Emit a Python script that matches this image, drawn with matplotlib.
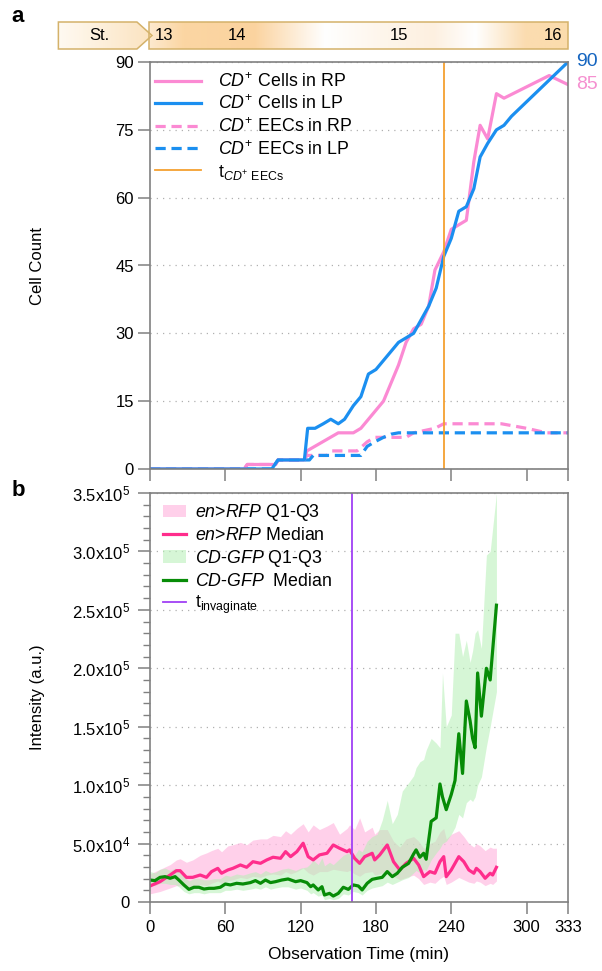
import numpy as np
import matplotlib
matplotlib.use('Agg')
import matplotlib.pyplot as plt
from matplotlib.colors import LinearSegmentedColormap
from matplotlib.patches import Polygon, Rectangle
from matplotlib.lines import Line2D
from matplotlib.patches import Patch

plt.rcParams['font.family'] = ['Liberation Sans', 'DejaVu Sans']
plt.rcParams['mathtext.fontset'] = 'custom'
plt.rcParams['mathtext.rm'] = 'Liberation Sans'
plt.rcParams['mathtext.it'] = 'Liberation Sans:italic'
plt.rcParams['mathtext.bf'] = 'Liberation Sans:bold'

# ---- panel a : cell counts ----
lp_t = [0, 97, 102, 123, 125.6, 131.5, 138, 144, 150, 155, 162, 168, 174, 180, 186, 192, 198,
        204, 210, 216, 222, 228, 234, 240, 246, 252, 258, 263, 269, 276, 282, 288, 318, 333]
lp_cells = [0, 0, 2, 2, 9, 9, 10, 11, 10, 11, 14, 16, 21, 22, 24, 26, 28,
            29, 30, 33, 36, 40, 47, 51, 57, 58, 62, 69, 72, 75, 76, 78, 86, 90]

rp_t = [0, 75, 77.5, 100, 102, 123, 125, 150, 162, 168, 186, 198, 204, 210, 216, 222, 227,
        234, 240, 252, 258, 263, 269, 276, 282, 318, 333]
rp_cells = [0, 0, 1, 1, 2, 2, 4, 8, 8, 9, 15, 23, 28, 31, 32, 36, 44,
            48, 53, 55, 68, 76, 73, 83, 82, 87, 85]

rp_eec_t = [0, 75, 77.5, 100, 102, 123, 125, 141, 145, 165, 173, 179, 204, 210, 227, 234, 280, 300, 316, 333]
rp_eec = [0, 0, 1, 1, 2, 2, 3, 3, 4, 4, 6, 7, 7, 8, 9, 10, 10, 9, 8, 8]

lp_eec_t = [0, 97, 102, 127, 130, 168, 173, 179, 186, 192, 198, 333]
lp_eec = [0, 0, 2, 2, 3, 3, 5, 6, 7, 7.7, 8, 8]

t_eec = 234

stage_names = ['St.', '13', '14', '15', '16']
stage_pos = [-40, 11, 69, 198, 321]

# ---- panel b : intensities (x1e4) ----
rfp_t = [0, 8, 16, 21, 24, 29, 34, 40, 45, 49, 54, 57, 62, 66, 72, 77, 82, 88, 93, 98,
         104, 108, 112, 117, 122, 126, 130, 135, 141, 146, 151, 157, 159, 163, 167, 171,
         177, 179, 183, 189, 194, 199, 204, 210, 214, 218, 223, 227, 231, 234, 236, 240,
         246, 250, 254, 258, 260, 263, 267, 271, 273, 276]
rfp_med = [1.37, 1.74, 2.31, 2.68, 2.68, 2.11, 2.11, 2.31, 2.11, 2.6,
           2.88, 2.46, 2.74, 2.88, 3.17, 2.97, 3.45, 3.31, 3.6, 3.83,
           3.74, 4.31, 3.88, 4.31, 5.03, 3.88, 3.6, 4.03, 4.17, 4.88,
           4.6, 4.31, 4.46, 3.74, 3.31, 3.88, 4.17, 3.6, 4.03, 4.88,
           3.45, 2.74, 3.31, 3.74, 3.17, 2.17, 2.6, 2.46, 3.45, 3.88,
           2.17, 2.74, 3.88, 3.45, 2.74, 2.46, 2.88, 2.6, 2.03, 2.46,
           2.31, 2.97]
rfp_q3 = [2.4, 2.8, 3.2, 3.6, 3.7, 3.4, 3.6, 4.0, 4.2, 4.4,
          4.6, 4.3, 4.8, 4.9, 5.1, 4.9, 5.3, 5.4, 5.4, 5.7,
          5.6, 6.1, 5.8, 6.3, 6.7, 6.0, 6.6, 6.2, 6.5, 6.8,
          5.8, 6.3, 6.6, 6.2, 7.2, 6.0, 6.4, 5.8, 6.2, 6.2,
          5.2, 4.7, 5.4, 5.6, 5.2, 4.6, 5.0, 5.2, 6.0, 6.3,
          5.4, 5.8, 6.1, 5.6, 5.0, 4.7, 5.0, 4.8, 4.4, 4.7,
          4.6, 4.6]
rfp_q1 = [0.7, 0.9, 1.2, 1.4, 1.4, 1.2, 1.3, 1.5, 1.4, 1.6,
          1.8, 1.6, 1.8, 1.9, 2.1, 2.0, 2.2, 2.1, 2.3, 2.4,
          2.3, 2.6, 2.4, 2.6, 2.9, 2.5, 2.3, 2.6, 2.6, 2.8,
          2.7, 2.6, 2.7, 2.4, 2.2, 2.5, 2.6, 2.3, 2.4, 2.7,
          2.2, 1.9, 2.1, 2.3, 2.0, 1.5, 1.7, 1.6, 2.0, 2.2,
          1.5, 1.7, 2.1, 1.9, 1.7, 1.6, 1.8, 1.7, 1.4, 1.6,
          1.5, 1.8]

gfp_t = [0, 4, 8, 12, 16, 20, 23, 27, 31, 35, 39, 43, 47, 51, 56, 60, 64, 69, 74, 80,
         84, 88, 92, 96, 100, 105, 110, 116, 120, 125, 128, 130, 134, 137, 139, 143, 146,
         150, 154, 158, 162, 166, 169, 173, 177, 181, 185, 189, 193, 197, 201, 206, 210,
         212, 215, 218, 220, 224, 228, 231, 233, 236, 240, 243, 246, 249, 252, 255, 257,
         259, 261, 264, 268, 271, 276]
gfp_med = [1.88, 1.83, 2.11, 2.17, 2.03, 2.17, 1.88, 1.46, 1.08, 1.26,
           1.26, 1.11, 1.17, 1.17, 1.26, 1.54, 1.46, 1.6, 1.54, 1.66,
           1.83, 1.6, 1.88, 1.66, 1.74, 1.88, 1.97, 1.74, 1.83, 1.66,
           1.31, 1.46, 1.03, 1.31, 0.6, 0.74, 0.51, 0.74, 1.26, 1.08,
           1.46, 1.37, 1.03, 1.6, 1.94, 2.03, 2.11, 2.6, 2.17, 2.46,
           2.97, 3.31, 4.11, 4.46, 3.83, 4.17, 3.66, 6.9, 7.2, 10.1,
           9.0, 7.9, 9.2, 10.4, 14.4, 11.0, 17.2, 15.5, 14.0, 13.2,
           19.6, 15.9, 20.0, 19.0, 25.4]
gfp_q3 = [2.6, 2.5, 2.8, 2.9, 2.7, 2.9, 2.6, 2.2, 1.8, 2.0,
          2.0, 1.9, 1.9, 2.0, 2.0, 2.3, 2.2, 2.4, 2.3, 2.5,
          2.6, 2.4, 2.7, 2.5, 2.6, 2.8, 2.9, 2.7, 2.9, 3.0,
          3.3, 3.6, 3.2, 3.8, 3.1, 3.4, 3.2, 3.6, 4.0, 4.2,
          3.8, 4.5, 4.3, 5.2, 5.6, 5.8, 7.0, 8.7, 6.7, 7.5,
          9.5, 10.2, 10.8, 11.5, 12.0, 12.2, 13.0, 14.0, 13.6, 13.2,
          19.6, 15.0, 16.0, 23.0, 23.0, 21.0, 22.4, 20.5, 21.5, 23.0,
          23.3, 21.7, 29.7, 30.0, 35.0]
gfp_q1 = [1.5, 1.4, 1.6, 1.6, 1.5, 1.5, 1.3, 0.9, 0.7, 0.8,
          0.8, 0.7, 0.8, 0.8, 0.8, 1.0, 1.0, 1.1, 1.0, 1.1,
          1.2, 1.1, 1.3, 1.1, 1.2, 1.3, 1.3, 1.1, 1.2, 1.0,
          0.7, 0.8, 0.5, 0.6, 0.2, 0.3, 0.2, 0.3, 0.7, 0.6,
          0.9, 0.8, 0.6, 1.0, 1.2, 1.3, 1.4, 1.7, 1.5, 1.7,
          1.9, 2.1, 2.5, 2.7, 2.5, 2.8, 2.7, 3.6, 4.2, 4.6,
          5.0, 5.2, 5.8, 6.4, 7.5, 7.2, 8.5, 8.8, 8.6, 9.0,
          10.0, 10.7, 13.3, 15.0, 18.0]

t_invag = 161

x_ticks = [0, 60, 120, 180, 240, 300, 333]
a_yticks = [0, 15, 30, 45, 60, 75, 90]
b_yticks = [0, 5e4, 1e5, 1.5e5, 2e5, 2.5e5, 3e5, 3.5e5]
b_ylabels = ['0', '5.0x10$^{4}$', '1.0x10$^{5}$', '1.5x10$^{5}$', '2.0x10$^{5}$',
             '2.5x10$^{5}$', '3.0x10$^{5}$', '3.5x10$^{5}$']

# colours
c_rp = '#fb8ad3'
c_lp = '#1b8ff0'
c_orange = '#f5a030'
c_purple = '#a040f5'
c_rfp = '#ff2d8c'
c_gfp = '#078c07'
spine_c = '#808080'

W, H = 602, 971
fig = plt.figure(figsize=(W / 100, H / 100), dpi=100)

def fx(px):
    return px / W

def fy(py):
    return 1 - py / H

ax_a = fig.add_axes([fx(150), fy(469), fx(568) - fx(150), fy(62) - fy(469)])
ax_b = fig.add_axes([fx(150), fy(902), fx(568) - fx(150), fy(493) - fy(902)])

for ax in (ax_a, ax_b):
    for s in ax.spines.values():
        s.set_color(spine_c)
        s.set_linewidth(1.2)
    ax.set_xlim(0, 333)
    ax.set_xticks(x_ticks)
    ax.tick_params(direction='out', length=8.6, width=1.1, color=spine_c, labelsize=12)
    ax.grid(axis='y', color='#b0b0b0', linestyle=(0, (1, 4)), linewidth=0.9)
    ax.set_axisbelow(True)

# panel a
ax_a.set_ylim(0, 90)
ax_a.set_yticks(a_yticks)
ax_a.tick_params(axis='x', labelbottom=False)
ax_a.tick_params(axis='y', pad=3)
ax_a.plot(rp_eec_t, rp_eec, color=c_rp, lw=2.3, ls=(0, (3.2, 1.8)))
ax_a.plot(lp_eec_t, lp_eec, color=c_lp, lw=2.3, ls=(0, (3.2, 1.8)))
ax_a.plot(rp_t, rp_cells, color=c_rp, lw=2.3)
ax_a.plot(lp_t, lp_cells, color=c_lp, lw=2.3)
ax_a.axvline(t_eec, color=c_orange, lw=1.3)
ax_a.annotate(f'{lp_cells[-1]}', xy=(lp_t[-1], lp_cells[-1]), xytext=(6, 0),
              textcoords='offset points', va='center', ha='left', fontsize=14,
              color='#1565c0', annotation_clip=False)
ax_a.annotate(f'{rp_cells[-1]}', xy=(rp_t[-1], rp_cells[-1]), xytext=(6, 0),
              textcoords='offset points', va='center', ha='left', fontsize=14,
              color='#f590d0', annotation_clip=False)
ax_a.set_ylabel('Cell Count', fontsize=12)
ax_a.yaxis.set_label_coords((45 - 150) / 418, 0.5)

leg_a = [Line2D([], [], color=c_rp, lw=2.3),
         Line2D([], [], color=c_lp, lw=2.3),
         Line2D([], [], color=c_rp, lw=2.3, ls=(0, (3.2, 1.8))),
         Line2D([], [], color=c_lp, lw=2.3, ls=(0, (3.2, 1.8))),
         Line2D([], [], color=c_orange, lw=1.3)]
lab_a = [r'$\mathit{CD}^{+}$ Cells in RP', r'$\mathit{CD}^{+}$ Cells in LP',
         r'$\mathit{CD}^{+}$ EECs in RP', r'$\mathit{CD}^{+}$ EECs in LP',
         r't$_{\mathit{CD}^{+}\ \mathrm{EECs}}$']
ax_a.legend(leg_a, lab_a, loc='upper left', bbox_to_anchor=(0.012, 0.975), frameon=False,
            fontsize=12.8, handlelength=2.6, handletextpad=0.95, labelspacing=0.22,
            borderpad=0, borderaxespad=0)

# panel b
ax_b.set_ylim(0, 3.5e5)
ax_b.set_yticks(b_yticks)
ax_b.set_yticklabels(b_ylabels)
ax_b.set_yticks(np.arange(0, 3.5e5 + 1, 1e4), minor=True)
ax_b.tick_params(axis='y', which='minor', direction='out', length=5, width=1, color=spine_c)
ax_b.tick_params(axis='y', pad=6)
ax_b.tick_params(axis='x', pad=4)

sc = 1e4
ax_b.fill_between(rfp_t, np.array(rfp_q1) * sc, np.array(rfp_q3) * sc,
                  color='#ffbde2', alpha=0.7, lw=0)
ax_b.plot(rfp_t, np.array(rfp_med) * sc, color=c_rfp, lw=2.3)
ax_b.fill_between(gfp_t, np.array(gfp_q1) * sc, np.array(gfp_q3) * sc,
                  color='#b5f0b5', alpha=0.55, lw=0)
ax_b.plot(gfp_t, np.array(gfp_med) * sc, color=c_gfp, lw=2.3)
ax_b.axvline(t_invag, color=c_purple, lw=1.3)

ax_b.set_ylabel('Intensity (a.u.)', fontsize=12)
ax_b.yaxis.set_label_coords((45 - 150) / 418, 0.5)
ax_b.set_xlabel('Observation Time (min)', fontsize=12.5)
ax_b.xaxis.set_label_coords(0.5, -(947 - 902) / 409)

leg_b = [Patch(facecolor='#ffbde2', alpha=0.7, lw=0),
         Line2D([], [], color=c_rfp, lw=2.3),
         Patch(facecolor='#b5f0b5', alpha=0.55, lw=0),
         Line2D([], [], color=c_gfp, lw=2.3),
         Line2D([], [], color=c_purple, lw=1.3)]
lab_b = [r'$\mathit{en}$>$\mathit{RFP}$ Q1-Q3', r'$\mathit{en}$>$\mathit{RFP}$ Median',
         r'$\mathit{CD}$-$\mathit{GFP}$ Q1-Q3', r'$\mathit{CD}$-$\mathit{GFP}$  Median',
         r't$_{\mathrm{invaginate}}$']
ax_b.legend(leg_b, lab_b, loc='upper left', bbox_to_anchor=(0.03, 0.978), frameon=False,
            fontsize=12.8, handlelength=1.3, handletextpad=0.5, labelspacing=0.22,
            borderpad=0, borderaxespad=0)

# stage bar
ax_s = fig.add_axes([fx(58), fy(49), fx(568) - fx(58), fy(22) - fy(49)])
ax_s.set_xlim(-73.3, 333)
ax_s.set_ylim(0, 1)
ax_s.axis('off')
grad = np.linspace(0, 1, 256)[None, :]
cm_bar = LinearSegmentedColormap.from_list('bar', [
    (0.0, '#fde9cf'), (0.08, '#fbd6a3'), (0.25, '#fbd39f'), (0.42, '#ffffff'),
    (0.55, '#fef6ec'), (0.68, '#fdf0e0'), (0.78, '#ffffff'), (0.9, '#fbdcb0'),
    (1.0, '#fbdcad')])
cm_st = LinearSegmentedColormap.from_list('st', ['#fffaf2', '#fbe3c0'])
ax_s.imshow(grad, extent=(-0.8, 333, 0, 1), aspect='auto', cmap=cm_bar)
ax_s.add_patch(Rectangle((-0.8, 0), 333.8, 1, fill=False, ec='#d4b26a', lw=1.1, clip_on=False))
st_poly = Polygon([(-73, 0), (-10.4, 0), (1.6, 0.5), (-10.4, 1), (-73, 1)], closed=True,
                  fill=False, ec='#d4b26a', lw=1.1, clip_on=False)
im_st = ax_s.imshow(grad, extent=(-73, 1.6, 0, 1), aspect='auto', cmap=cm_st)
ax_s.add_patch(st_poly)
im_st.set_clip_path(st_poly)
ax_s.set_xlim(-73.3, 333)
ax_s.set_ylim(0, 1)
for name, pos in zip(stage_names, stage_pos):
    ax_s.text(pos, 0.5, name, ha='center', va='center', fontsize=12)

fig.text(fx(18), fy(17), 'a', fontsize=16, fontweight='bold', ha='center', va='center')
fig.text(fx(18), fy(490), 'b', fontsize=16, fontweight='bold', ha='center', va='center')

fig.savefig('out.png', dpi=100)
